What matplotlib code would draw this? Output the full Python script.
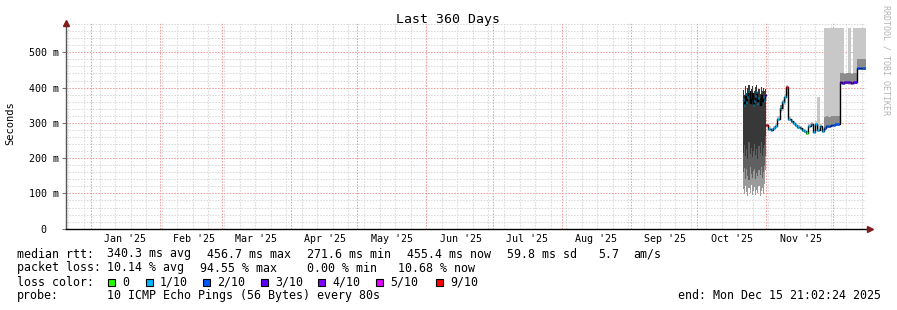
import matplotlib
matplotlib.use("Agg")
import matplotlib.pyplot as plt
import matplotlib.dates as mdates
from matplotlib.patches import Rectangle
import numpy as np
import pandas as pd

# ---------------- data ----------------
period_end = "2025-12-15 21:02:24"
span_days = 360

# 12-hour bins, 21 Oct 12:00 -> 1 Nov 00:00
oct_start = "2025-10-21 12:00"
oct_median = [0.365, 0.352, 0.381, 0.358, 0.372, 0.390, 0.355, 0.368, 0.384, 0.350, 0.362,
              0.377, 0.388, 0.357, 0.370, 0.352, 0.380, 0.361, 0.374, 0.366, 0.378]
oct_top = [0.392, 0.380, 0.404, 0.386, 0.398, 0.408, 0.383, 0.395, 0.405, 0.378, 0.390,
           0.401, 0.407, 0.384, 0.397, 0.381, 0.403, 0.389, 0.399, 0.391, 0.395]
oct_dark_lo = [0.215, 0.238, 0.205, 0.226, 0.198, 0.245, 0.212, 0.230, 0.202, 0.221, 0.240,
               0.208, 0.226, 0.197, 0.234, 0.215, 0.246, 0.205, 0.228, 0.236, 0.262]
oct_mid_lo = [0.160, 0.172, 0.142, 0.168, 0.150, 0.138, 0.175, 0.155, 0.145, 0.163, 0.170,
              0.140, 0.158, 0.148, 0.166, 0.152, 0.174, 0.144, 0.160, 0.178, 0.205]
oct_low = [0.112, 0.098, 0.120, 0.104, 0.092, 0.115, 0.100, 0.125, 0.095, 0.108, 0.118,
           0.096, 0.110, 0.102, 0.122, 0.094, 0.106, 0.114, 0.099, 0.128, 0.165]
oct_loss = [1, 1, 1, 1, 1, 1, 1, 1, 1, 1, 1, 1, 1, 1, 1, 1, 1, 1, 1, 1, 3]

# daily bins, 1 Nov -> 15 Dec
nov_start = "2025-11-01 00:00"
nov_median = [0.294, 0.283, 0.279, 0.284, 0.290, 0.312, 0.343, 0.358, 0.372, 0.401,
              0.312, 0.306, 0.300, 0.294, 0.288, 0.284, 0.280, 0.276, 0.270, 0.290,
              0.296, 0.274, 0.298, 0.281, 0.290, 0.276, 0.286, 0.290, 0.291, 0.294,
              0.295, 0.296, 0.298, 0.415, 0.414, 0.415, 0.416, 0.415, 0.414, 0.415,
              0.416, 0.455, 0.455, 0.455, 0.455]
nov_hi = [0.300, 0.290, 0.286, 0.291, 0.297, 0.320, 0.352, 0.366, 0.381, 0.408,
          0.318, 0.312, 0.306, 0.300, 0.294, 0.290, 0.286, 0.282, 0.278, 0.297,
          0.302, 0.281, 0.305, 0.372, 0.296, 0.283, 0.570, 0.570, 0.570, 0.570,
          0.570, 0.570, 0.570, 0.570, 0.570, 0.440, 0.440, 0.570, 0.440, 0.570,
          0.570, 0.570, 0.570, 0.570, 0.570]
nov_lo = [0.288, 0.278, 0.274, 0.279, 0.285, 0.305, 0.330, 0.335, 0.350, 0.380,
          0.306, 0.300, 0.295, 0.289, 0.283, 0.279, 0.275, 0.271, 0.266, 0.285,
          0.290, 0.270, 0.292, 0.275, 0.285, 0.271, 0.280, 0.284, 0.285, 0.288,
          0.289, 0.290, 0.292, 0.408, 0.407, 0.408, 0.409, 0.408, 0.407, 0.408,
          0.409, 0.449, 0.449, 0.449, 0.449]
nov_mid_lo = [None, None, None, None, None, None, 0.335, 0.338, 0.352, None,
              None, None, None, None, None, None, None, None, None, None,
              None, None, None, None, None, None, 0.282, 0.285, 0.286, 0.289,
              0.290, 0.291, 0.293, 0.410, 0.409, 0.410, 0.411, 0.410, 0.409, 0.410,
              0.411, 0.451, 0.451, 0.451, 0.451]
nov_mid_hi = [None, None, None, None, None, None, 0.350, 0.362, 0.368, None,
              None, None, None, None, None, None, None, None, None, None,
              None, None, None, None, None, None, 0.316, 0.318, 0.317, 0.318,
              0.319, 0.318, 0.320, 0.440, 0.441, 0.438, 0.440, 0.441, 0.439, 0.440,
              0.440, 0.480, 0.482, 0.481, 0.480]
nov_loss = [9, 1, 1, 1, 1, 1, 1, 1, 1, 9,
            1, 1, 1, 1, 1, 1, 1, 1, 0, 1,
            1, 1, 1, 1, 1, 1, 2, 2, 2, 2,
            2, 2, 2, 3, 3, 3, 3, 3, 4, 3,
            3, 2, 2, 2, 2]

loss_levels = ["0", "1/10", "2/10", "3/10", "4/10", "5/10", "9/10"]
loss_colors = {0: "#26ff00", 1: "#00b8ff", 2: "#0059ff", 3: "#5e00ff",
               4: "#7e00ff", 5: "#dd00ff", 9: "#ff0000"}
loss_keys = [0, 1, 2, 3, 4, 5, 9]

y_ticks = [0.0, 0.1, 0.2, 0.3, 0.4, 0.5]
y_ticklabels = ["0  ", "100 m", "200 m", "300 m", "400 m", "500 m"]
month_labels = ["Jan '25", "Feb '25", "Mar '25", "Apr '25", "May '25", "Jun '25",
                "Jul '25", "Aug '25", "Sep '25", "Oct '25", "Nov '25"]

legend_rtt = [("median rtt:", 16.7), ("340.3 ms avg", 107.3), ("456.7 ms max", 207.3),
              ("271.6 ms min", 307.3), ("455.4 ms now", 407.3), ("59.8 ms sd", 507.3),
              ("5.7", 598.0), ("am/s", 633.0)]
legend_loss = [("packet loss:", 16.7), ("10.14 % avg", 107.3), ("94.55 % max", 200.0),
               ("0.00 % min", 306.7), ("10.68 % now", 398.3)]
probe_text = "10 ICMP Echo Pings (56 Bytes) every 80s"
end_text = "end: Mon Dec 15 21:02:24 2025"

# ---------------- figure ----------------
W, H = 897, 310
MONO = "DejaVu Sans Mono"
fig = plt.figure(figsize=(W / 100, H / 100), dpi=100)
fig.patch.set_facecolor("white")

ax_l, ax_r = 66.0, 866.0
ax_b, ax_t = 228.7, 23.0
ax = fig.add_axes([ax_l / W, 1 - ax_b / H, (ax_r - ax_l) / W, (ax_b - ax_t) / H])
ax.set_facecolor("white")

t_end = pd.Timestamp(period_end)
t_start = t_end - pd.Timedelta(days=span_days)
ax.set_xlim(mdates.date2num(t_start.to_pydatetime()), mdates.date2num(t_end.to_pydatetime()))
ax.set_ylim(0, 0.583)

# grid
dot = (0, (1.4, 1.4))
for d in pd.date_range(t_start.normalize(), t_end, freq="W-SUN"):
    ax.axvline(mdates.date2num(d.to_pydatetime()), color="#d8d8d8", lw=0.75, ls=dot, zorder=0)
for yv in np.arange(0.02, 0.583, 0.02):
    if abs(yv * 10 - round(yv * 10)) > 1e-6:
        ax.axhline(yv, color="#d8d8d8", lw=0.75, ls=dot, zorder=0)
for d in pd.date_range("2025-01-01", "2025-12-01", freq="MS"):
    ax.axvline(mdates.date2num(d.to_pydatetime()), color="#f09a9a", lw=0.75, ls=dot, zorder=0.5)
for yv in y_ticks[1:]:
    ax.axhline(yv, color="#f09a9a", lw=0.75, ls=dot, zorder=0.5)


def edges(times, step):
    x = mdates.date2num([t.to_pydatetime() for t in times])
    return np.append(x, x[-1] + step)


def ext(v):
    a = np.array([np.nan if q is None else q for q in v], dtype=float)
    return np.append(a, a[-1])


t1 = pd.date_range(oct_start, periods=len(oct_median), freq="12h")
x1 = edges(t1, 0.5)
t2 = pd.date_range(nov_start, periods=len(nov_median), freq="D")
x2 = edges(t2, 1.0)

# smoke, October block
ax.fill_between(x1, ext(oct_low), ext(oct_mid_lo), step="post", color="#9a9a9a", lw=0, zorder=2)
ax.fill_between(x1, ext(oct_mid_lo), ext(oct_dark_lo), step="post", color="#606060", lw=0, zorder=2)
ax.fill_between(x1, ext(oct_dark_lo), ext(oct_top), step="post", color="#383838", lw=0, zorder=2)
# smoke, Nov/Dec block
ax.fill_between(x2, ext(nov_lo), ext(nov_hi), step="post", color="#c8c8c8", lw=0, zorder=2)
ax.fill_between(x2, ext(nov_mid_lo), ext(nov_mid_hi), step="post", color="#8c8c8c", lw=0, zorder=2)

# median line
ax.step(x1, ext(oct_median), where="post", color="black", lw=1.0, zorder=3)
ax.step(x2, ext(nov_median), where="post", color="black", lw=1.0, zorder=3)
for xs, med, loss, frac in ((x1, oct_median, oct_loss, 0.55), (x2, nov_median, nov_loss, 0.8)):
    x0 = xs[:-1]
    x1e = x0 + frac * (xs[1:] - xs[:-1])
    ax.hlines(med, x0, x1e, colors=[loss_colors[k] for k in loss], lw=1.8, zorder=4)

# axes styling
for s in ("top", "right"):
    ax.spines[s].set_visible(False)
ax.spines["left"].set_color("#555555")
ax.spines["left"].set_linewidth(1.0)
ax.spines["bottom"].set_color("black")
ax.spines["bottom"].set_linewidth(1.0)
ax.spines["left"].set_zorder(5)
ax.spines["bottom"].set_zorder(5)

ax.set_yticks(y_ticks)
ax.set_yticklabels(y_ticklabels, fontfamily=MONO, fontsize=7.2)
ax.tick_params(axis="y", length=3, width=0.8, color="#777777", pad=2)

mid_months = [pd.Timestamp(f"2025-{m:02d}-16 12:00") for m in range(1, 12)]
ax.set_xticks(mdates.date2num([d.to_pydatetime() for d in mid_months]))
ax.set_xticklabels(month_labels, fontfamily=MONO, fontsize=7.2)
ax.tick_params(axis="x", length=0, pad=4)

# arrows
ax.plot([0], [1.0], marker="^", ms=4.5, color="#7f1f1f", transform=ax.transAxes, clip_on=False, zorder=6)
ax.plot([1.0 + 4 / 800], [0], marker=">", ms=4.5, color="#7f1f1f", transform=ax.transAxes, clip_on=False, zorder=6)

# overlay for texts
ov = fig.add_axes([0, 0, 1, 1], facecolor="none")
ov.set_xlim(0, W)
ov.set_ylim(H, 0)
ov.axis("off")

ov.text(448, 19, "Last 360 Days", ha="center", va="center", fontfamily=MONO, fontsize=9.5)
ov.text(10.5, 123, "Seconds", ha="center", va="center", rotation=90, fontfamily=MONO, fontsize=7.5)
ov.text(886, 5, "RRDTOOL / TOBI OETIKER", ha="center", va="top", rotation=-90,
        fontfamily=MONO, fontsize=6.0, color="#b4b4b4")

LS = 8.4
base = [257.5, 271.5, 285.5, 299.0]
for txt, x in legend_rtt:
    ov.text(x, base[0], txt, ha="left", va="baseline", fontfamily=MONO, fontsize=LS)
for txt, x in legend_loss:
    ov.text(x, base[1], txt, ha="left", va="baseline", fontfamily=MONO, fontsize=LS)
ov.text(16.7, base[2], "loss color:", ha="left", va="baseline", fontfamily=MONO, fontsize=LS)
box_x = [108, 146, 203, 261, 318, 376, 436]
for bx, key, lab in zip(box_x, loss_keys, loss_levels):
    ov.add_patch(Rectangle((bx, 278.5), 7, 7, facecolor=loss_colors[key], edgecolor="black", lw=0.8))
    ov.text(bx + 14, base[2], lab, ha="left", va="baseline", fontfamily=MONO, fontsize=LS)
ov.text(16.7, base[3], "probe:", ha="left", va="baseline", fontfamily=MONO, fontsize=LS)
ov.text(107.3, base[3], probe_text, ha="left", va="baseline", fontfamily=MONO, fontsize=LS)
ov.text(881, base[3], end_text, ha="right", va="baseline", fontfamily=MONO, fontsize=LS)

fig.savefig("out.png", dpi=100, facecolor="white")
